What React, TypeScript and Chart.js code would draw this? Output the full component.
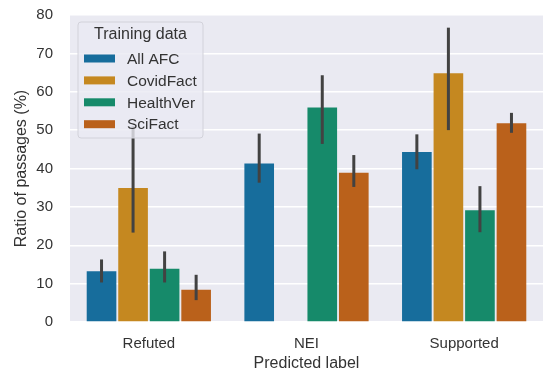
import React, { useEffect, useRef } from "react";
import { Chart, registerables } from "chart.js";

Chart.register(...registerables);

const categories = ["Refuted", "NEI", "Supported"];
const seriesNames = ["All AFC", "CovidFact", "HealthVer", "SciFact"];
const seriesColors = ["#176d9c", "#c58820", "#168a6a", "#ba611b"];

const allAfc = [13.2, 41.3, 44.3];
const covidFact = [34.9, null, 64.8];
const healthVer = [13.9, 55.9, 29.1];
const sciFact = [8.4, 38.9, 51.8];

const allAfcLo = [10.3, 36.3, 39.8];
const allAfcHi = [16.3, 49.1, 48.9];
const covidFactLo = [23.3, null, 50.0];
const covidFactHi = [51.0, null, 76.7];
const healthVerLo = [10.3, 46.4, 23.4];
const healthVerHi = [18.4, 64.3, 35.4];
const sciFactLo = [5.7, 35.2, 49.3];
const sciFactHi = [12.3, 43.5, 54.5];

const yTicks = [0, 10, 20, 30, 40, 50, 60, 70, 80];

const values = [allAfc, covidFact, healthVer, sciFact];
const lows = [allAfcLo, covidFactLo, healthVerLo, sciFactLo];
const highs = [allAfcHi, covidFactHi, healthVerHi, sciFactHi];

const FONT = "'Liberation Sans', Arial, sans-serif";
const TEXT = "#333333";

const bgPlugin = {
  id: "bgPlugin",
  beforeDraw(chart: any) {
    const { ctx, chartArea } = chart;
    ctx.save();
    ctx.fillStyle = "#eaeaf2";
    ctx.fillRect(chartArea.left, chartArea.top, chartArea.right - chartArea.left, chartArea.bottom - chartArea.top);
    ctx.restore();
  },
};

const errPlugin = {
  id: "errPlugin",
  afterDatasetsDraw(chart: any) {
    const { ctx } = chart;
    const yScale = chart.scales.y;
    ctx.save();
    ctx.strokeStyle = "#424242";
    ctx.lineWidth = 3;
    ctx.lineCap = "butt";
    for (let i = 0; i < values.length; i++) {
      const meta = chart.getDatasetMeta(i);
      for (let j = 0; j < categories.length; j++) {
        const lo = lows[i][j];
        const hi = highs[i][j];
        if (lo == null || hi == null) continue;
        const bar = meta.data[j];
        if (!bar) continue;
        ctx.beginPath();
        ctx.moveTo(bar.x, yScale.getPixelForValue(lo));
        ctx.lineTo(bar.x, yScale.getPixelForValue(hi));
        ctx.stroke();
      }
    }
    ctx.restore();
  },
};

const legendPlugin = {
  id: "legendPlugin",
  afterDraw(chart: any) {
    const { ctx, chartArea } = chart;
    const x = chartArea.left + 8;
    const y = chartArea.top + 7;
    const w = 125;
    const h = 116;
    ctx.save();
    ctx.beginPath();
    ctx.roundRect(x, y, w, h, 3);
    ctx.fillStyle = "rgba(234,234,242,0.8)";
    ctx.fill();
    ctx.strokeStyle = "#d2d2da";
    ctx.lineWidth = 1;
    ctx.stroke();
    ctx.fillStyle = TEXT;
    ctx.textBaseline = "middle";
    ctx.textAlign = "center";
    ctx.font = `16px ${FONT}`;
    ctx.fillText("Training data", x + w / 2, y + 13);
    ctx.textAlign = "left";
    ctx.font = `15.5px ${FONT}`;
    for (let i = 0; i < seriesNames.length; i++) {
      const cy = y + 36.5 + i * 21.9;
      ctx.fillStyle = seriesColors[i];
      ctx.fillRect(x + 6, cy - 4, 31, 8);
      ctx.fillStyle = TEXT;
      ctx.fillText(seriesNames[i], x + 49, cy + 1);
    }
    ctx.restore();
  },
};

export default function App() {
  const ref = useRef<HTMLCanvasElement | null>(null);

  useEffect(() => {
    if (!ref.current) return;
    const chart = new Chart(ref.current, {
      type: "bar",
      data: {
        labels: categories,
        datasets: seriesNames.map((name, i) => ({
          label: name,
          data: values[i] as any,
          backgroundColor: seriesColors[i],
          borderWidth: 0,
          categoryPercentage: 0.8,
          barPercentage: 0.94,
        })),
      },
      options: {
        responsive: false,
        animation: false,
        layout: { padding: { left: 0, right: 6, top: 15, bottom: 0 } },
        plugins: {
          legend: { display: false },
          tooltip: { enabled: false },
        },
        scales: {
          x: {
            grid: { display: false, drawTicks: false },
            border: { display: false },
            ticks: { color: TEXT, font: { family: FONT, size: 15 }, padding: 13 },
            title: {
              display: true,
              text: "Predicted label",
              color: TEXT,
              font: { family: FONT, size: 16 },
              padding: { top: 0, bottom: 6 },
            },
            afterFit(scale: any) {
              scale.height = 57;
              scale.paddingLeft = 0;
              scale.paddingRight = 0;
            },
          },
          y: {
            min: 0,
            max: 80,
            afterBuildTicks(scale: any) {
              scale.ticks = yTicks.map((v) => ({ value: v }));
            },
            grid: { color: "#ffffff", lineWidth: 1.5, drawTicks: false },
            border: { display: false },
            ticks: { color: TEXT, font: { family: FONT, size: 15 }, padding: 17 },
            title: {
              display: true,
              text: "Ratio of passages (%)",
              color: TEXT,
              font: { family: FONT, size: 16 },
              padding: { top: 12, bottom: 0 },
            },
            afterFit(scale: any) {
              scale.width = 70;
              scale.paddingTop = 0;
              scale.paddingBottom = 0;
            },
          },
        },
      },
      plugins: [bgPlugin, errPlugin, legendPlugin],
    });
    return () => chart.destroy();
  }, []);

  return (
    <div style={{ position: "fixed", left: 0, top: 0, width: 549, height: 379, background: "#ffffff" }}>
      <canvas ref={ref} width={549} height={379} />
    </div>
  );
}
